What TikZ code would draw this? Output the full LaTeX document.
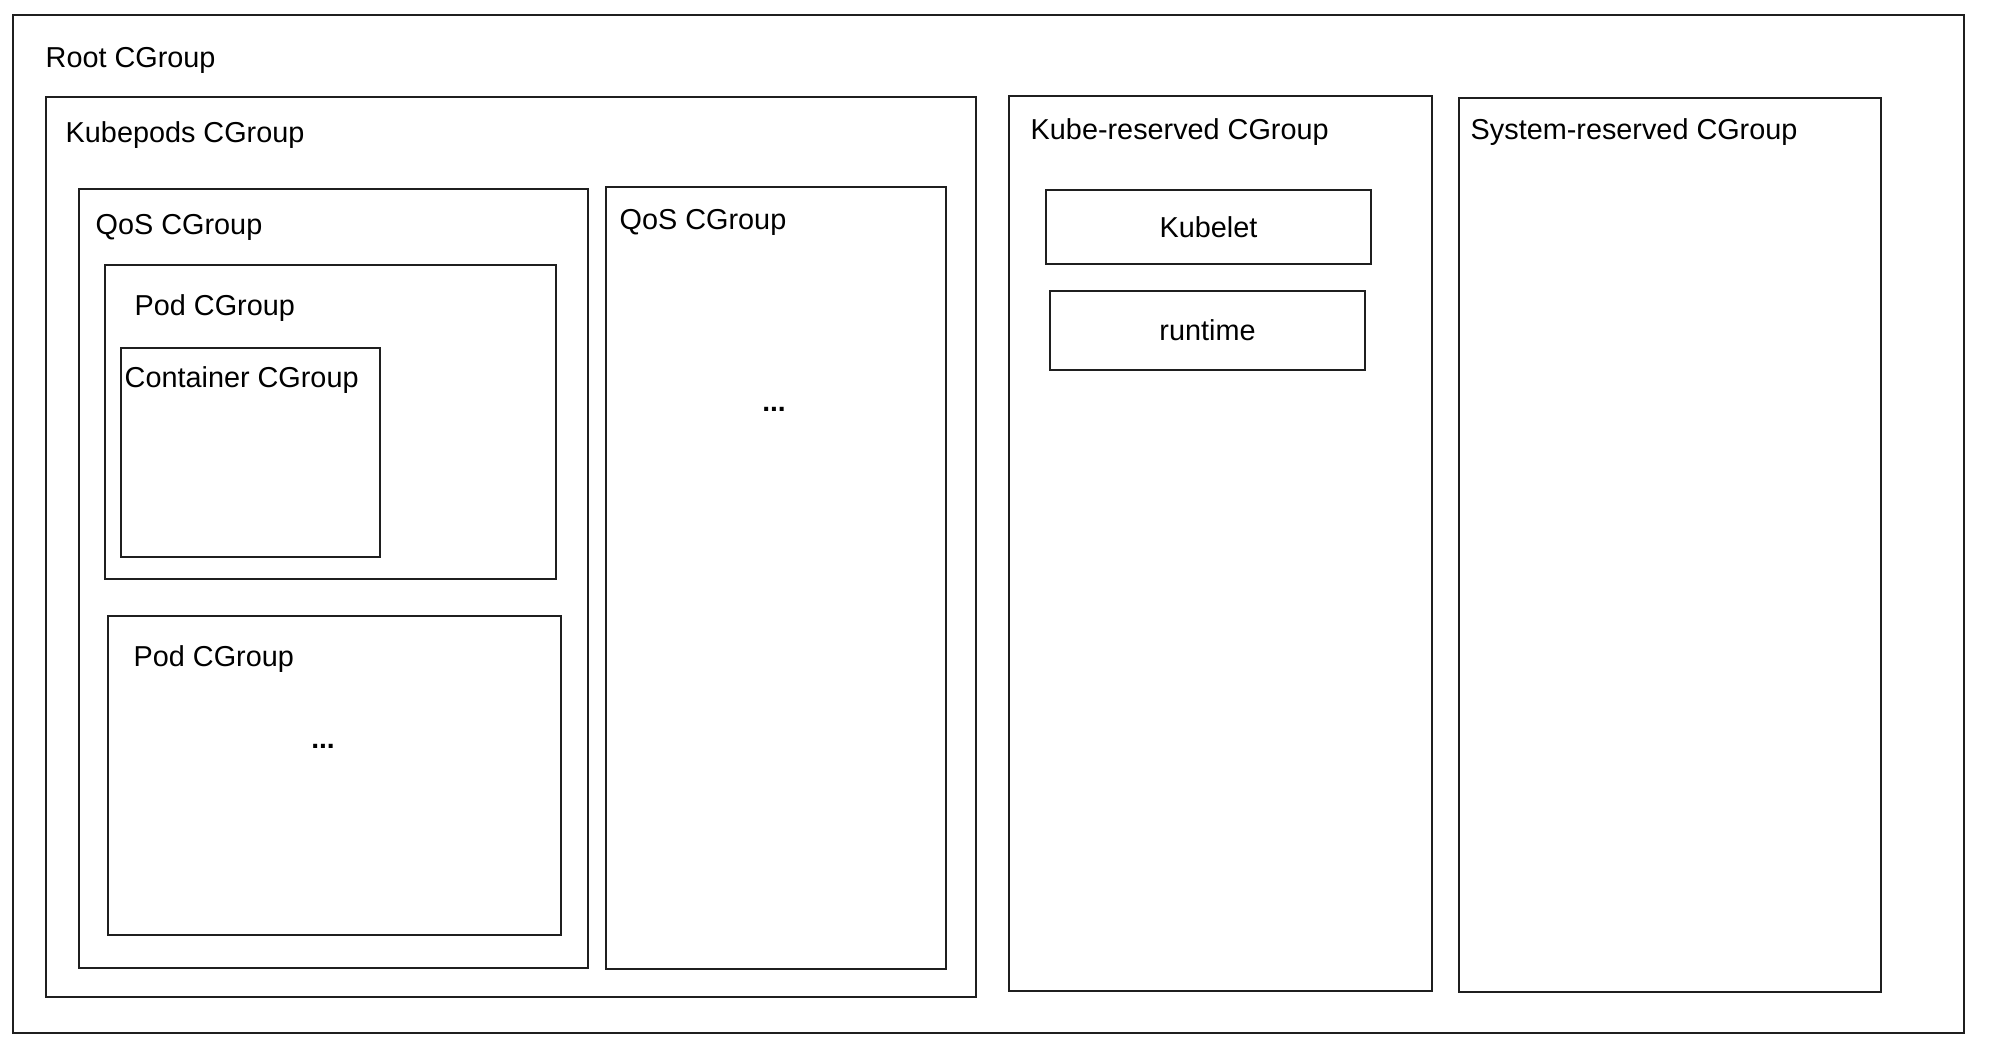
\documentclass[tikz,border=0pt]{standalone}
\usepackage{fontspec}
\setmainfont{Liberation Sans}
\usetikzlibrary{positioning,fit}

\tikzset{
    box/.style={draw=black!88, line width=0.55pt, inner sep=0pt},
    lbl/.style={anchor=west, inner sep=0pt, font=\fontsize{8.2}{10}\selectfont},
    dots/.style={inner sep=0pt, font=\fontsize{8}{10}\selectfont\bfseries}
}

\begin{document}
\begin{tikzpicture}[x=0.1mm, y=-0.1mm]
            \useasboundingbox (0,0) rectangle (2000,1063);

            % Groups
            \node[box, fit={(13,15) (1964,1033)}] (root) {};
            \node[box, fit={(46,97) (976,997)}] (kubepods) {};
            \node[box, fit={(79,189) (588,968)}] (qosa) {};
            \node[box, fit={(105,265) (556,579)}] (poda) {};
            \node[box, fit={(121,348) (380,557)}] (container) {};
            \node[box, fit={(108,616) (561,935)}] (podb) {};
            \node[box, fit={(606,187) (946,969)}] (qosb) {};
            \node[box, fit={(1009,96) (1432,991)}] (kuberes) {};
            \node[box, fit={(1459,98) (1881,992)}] (sysres) {};

            % Processes
            \node[box, minimum width=32.5mm, minimum height=7.4mm, font=\fontsize{8.2}{10}\selectfont] (kubelet) at (1208.5,227) {Kubelet};
            \node[box, minimum width=31.5mm, minimum height=7.9mm, font=\fontsize{8.2}{10}\selectfont] (runtime) at (1207.5,330.5) {runtime};

            % Labels
            \node[lbl] (rootlbl) at ([shift={(33,46)}]root.north west) {Root CGroup};
            \node[lbl] (kubepodslbl) at ([shift={(20,39)}]kubepods.north west) {Kubepods CGroup};
            \node[lbl] (qosalbl) at ([shift={(17,39)}]qosa.north west) {QoS CGroup};
            \node[lbl] (qosblbl) at ([shift={(14,36)}]qosb.north west) {QoS CGroup};
            \node[lbl] (podalbl) at ([shift={(30,44)}]poda.north west) {Pod CGroup};
            \node[lbl] (containerlbl) at ([shift={(4,33)}]container.north west) {Container CGroup};
            \node[lbl] (podblbl) at ([shift={(26,44)}]podb.north west) {Pod CGroup};
            \node[lbl] (kubereslbl) at ([shift={(22,37)}]kuberes.north west) {Kube-reserved CGroup};
            \node[lbl] (sysreslbl) at ([shift={(12,35)}]sysres.north west) {System-reserved CGroup};

            % More of the same
            \node[dots] (podbdots) at (323,746) {...};
            \node[dots] (qosbdots) at (774,409) {...};
        \end{tikzpicture}
\end{document}
